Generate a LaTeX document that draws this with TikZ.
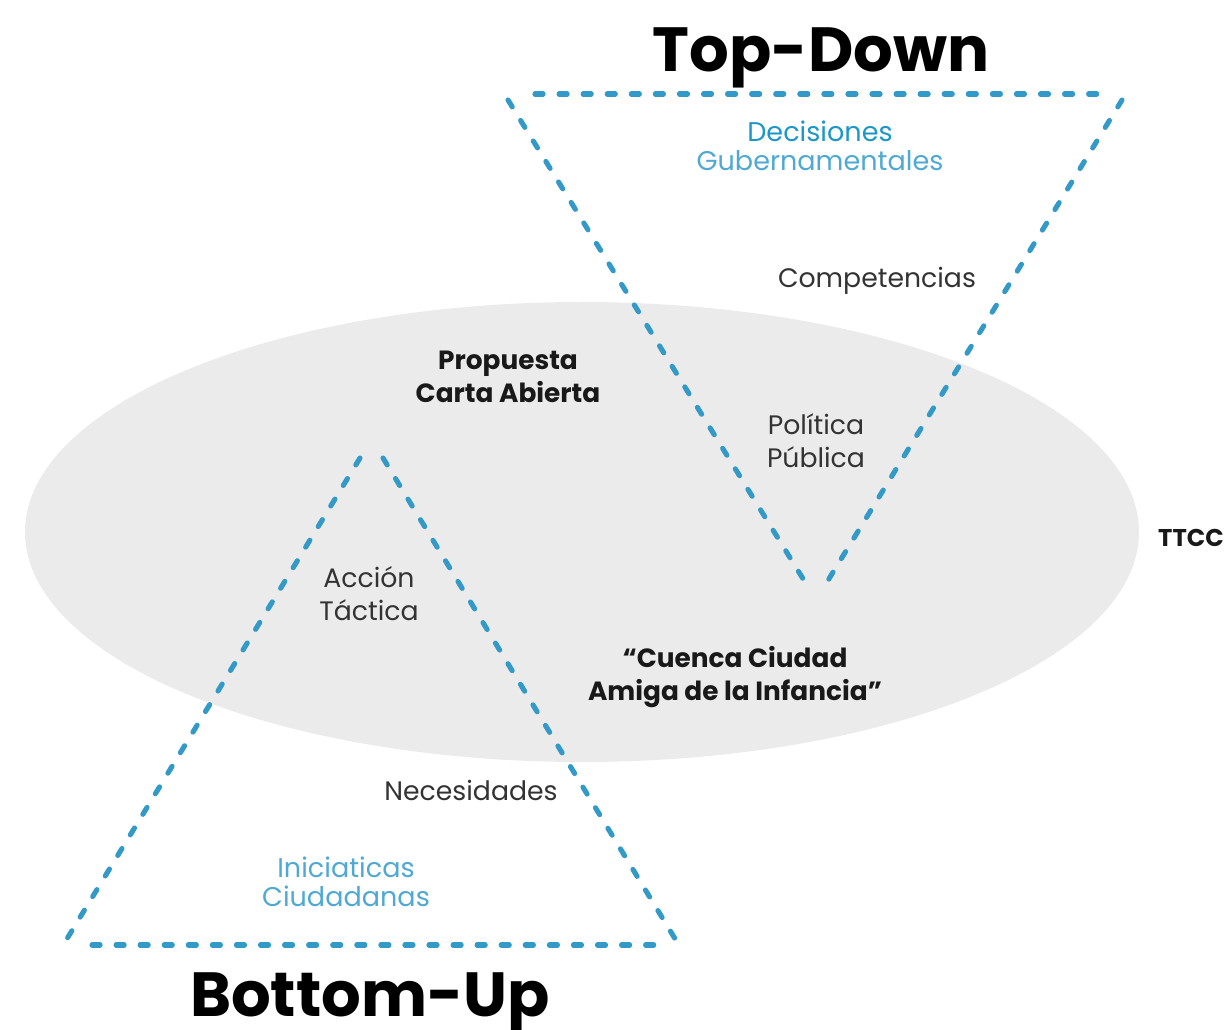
\documentclass[tikz,border=0pt]{standalone}
\usepackage{fontspec}
\setmainfont{Poppins}
\usetikzlibrary{positioning}
\definecolor{dashblue}{HTML}{3399C6}
\definecolor{decblue}{HTML}{1C97C7}
\definecolor{liteblue}{HTML}{4FA9D2}
\definecolor{ovalgray}{HTML}{EBEBEB}
\definecolor{txtgray}{HTML}{333333}
\tikzset{
  edge/.style={draw=dashblue, line width=2.9pt, line cap=round, dash pattern=on 4.6pt off 9.1pt},
  lbl/.style={font=\fontsize{15.2}{18.8}\selectfont, text=txtgray, align=center, inner sep=0pt},
  bl/.style={font=\fontsize{15}{18.8}\selectfont\bfseries, text=black!90, align=center, inner sep=0pt},
  blu/.style={font=\fontsize{15.4}{16.5}\selectfont, align=center, inner sep=0pt},
  ttl/.style={font=\fontsize{35.5}{36}\selectfont\bfseries, text=black, inner sep=0pt},
}

\begin{document}
\begin{tikzpicture}[x=0.02cm, y=-0.02cm]
\useasboundingbox (0,0) rectangle (1231,1030);
% grey field behind both triangles
\fill[ovalgray] (582,532) ellipse [x radius=557, y radius=230];

% top-down triangle, edges end short of the corners
\coordinate (td1) at (535,94);   \coordinate (td2) at (1102,94);
\coordinate (td3) at (508,100);  \coordinate (td4) at (805,582);
\coordinate (td5) at (1122,100); \coordinate (td6) at (827,582);
\draw[edge] (td1) -- (td2);
\draw[edge] (td3) -- (td4);
\draw[edge] (td5) -- (td6);

% bottom-up triangle
\coordinate (bu1) at (360,458); \coordinate (bu2) at (65,942);
\coordinate (bu3) at (383,458); \coordinate (bu4) at (677,942);
\coordinate (bu5) at (92,945);  \coordinate (bu6) at (660,945);
\draw[edge] (bu1) -- (bu2);
\draw[edge] (bu3) -- (bu4);
\draw[edge] (bu5) -- (bu6);

\node[ttl, anchor=base] (topdown) at (821,72) {Top-Down};
\node[ttl, anchor=base] (bottomup) at (370,1016) {Bottom-Up};

\node[blu] (decis) at (820,146) {\textcolor{decblue}{Decisiones}\\\textcolor{liteblue}{Gubernamentales}};
\node[lbl] (compet) at (877,281) {Competencias};
\node[lbl] (polit) at (816,441) {Política\\Pública};
\node[bl] (carta) at (508,377) {Propuesta\\Carta Abierta};
\node[bl, font=\fontsize{13.8}{16}\selectfont\bfseries] (ttcc) at (1191,538) {TTCC};
\node[lbl] (accion) at (369,594) {Acción\\Táctica};
\node[bl] (cuenca) at (735,677) {“Cuenca Ciudad\\Amiga de la Infancia”};
\node[lbl] (necesid) at (471,790) {Necesidades};
\node[blu, text=liteblue] (inicia) at (346,882) {Iniciaticas\\Ciudadanas};
\end{tikzpicture}
\end{document}
